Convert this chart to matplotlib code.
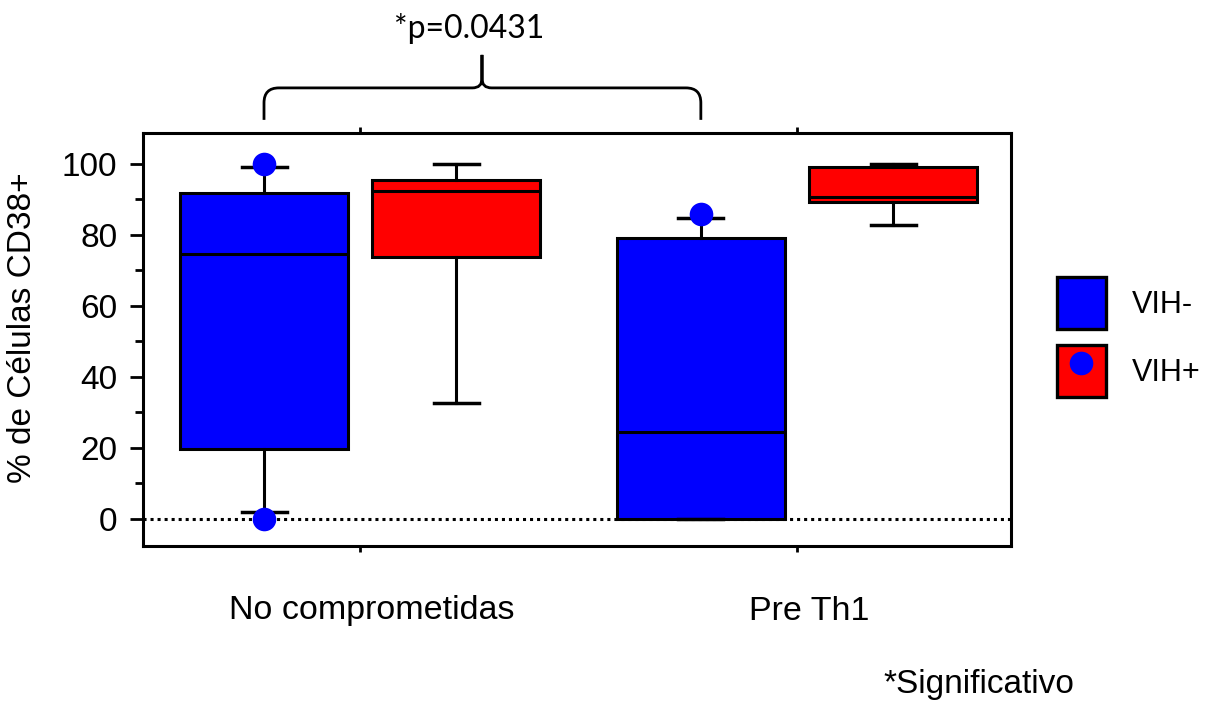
import matplotlib
matplotlib.use('Agg')
import matplotlib.pyplot as plt
from matplotlib.patches import Patch, PathPatch
from matplotlib.lines import Line2D
from matplotlib.path import Path
from matplotlib.transforms import ScaledTranslation, blended_transform_factory

groups = ['No comprometidas', 'Pre Th1']
series = ['VIH-', 'VIH+']
colors = ['#0000ff', '#ff0000']

# whisker low, q1, median, q3, whisker high per group
vih_neg_low = [1.9, 0.0]
vih_neg_q1 = [19.7, 0.0]
vih_neg_med = [74.6, 24.5]
vih_neg_q3 = [91.9, 79.2]
vih_neg_high = [99.2, 84.8]

vih_pos_low = [32.8, 82.9]
vih_pos_q1 = [73.9, 89.3]
vih_pos_med = [92.5, 90.7]
vih_pos_q3 = [95.4, 99.1]
vih_pos_high = [100.0, 100.0]

# single points drawn over the VIH- boxes
dot_group = [0, 0, 1]
dot_values = [100.0, 0.0, 85.9]

p_label = '*p=0.0431'
note_label = '*Significativo'
y_label = '% de Células CD38+'

font = ['Liberation Sans', 'DejaVu Sans']
plt.rcParams['font.family'] = font

fig = plt.figure(figsize=(12.19, 7.02), dpi=100)
ax = fig.add_axes([143 / 1219, 1 - 546 / 702, (1011 - 143) / 1219, (546 - 133) / 702])

offset = 0.22
width = 0.385
capw = 0.103

def stats(low, q1, med, q3, high):
    return [dict(whislo=a, q1=b, med=c, q3=d, whishi=e, fliers=[])
            for a, b, c, d, e in zip(low, q1, med, q3, high)]

all_stats = [stats(vih_neg_low, vih_neg_q1, vih_neg_med, vih_neg_q3, vih_neg_high),
             stats(vih_pos_low, vih_pos_q1, vih_pos_med, vih_pos_q3, vih_pos_high)]

lw = 2.2
for k, st in enumerate(all_stats):
    pos = [i + 1 + (k * 2 - 1) * offset for i in range(len(groups))]
    ax.bxp(st, positions=pos, widths=width, capwidths=capw, patch_artist=True,
           showfliers=False, manage_ticks=False,
           boxprops=dict(facecolor=colors[k], edgecolor='black', linewidth=lw),
           medianprops=dict(color='black', linewidth=lw),
           whiskerprops=dict(color='black', linewidth=lw),
           capprops=dict(color='black', linewidth=lw + 0.3))

ax.plot([g + 1 - offset for g in dot_group], dot_values, 'o', color=colors[0],
        ms=17, mec='none', zorder=5, clip_on=False)

ax.axhline(0, color='black', ls=(0, (1, 1.3)), lw=2.2, zorder=1)

ax.set_xlim(0.503, 2.49)
ax.set_ylim(-7.6, 108.7)
ax.set_yticks([0, 20, 40, 60, 80, 100])
ax.set_yticks([10, 30, 50, 70, 90], minor=True)
ax.set_xticks([1, 2])
ax.set_xticklabels([])
ax.tick_params(axis='y', which='major', length=9.4, width=2, labelsize=24, pad=9)
ax.tick_params(axis='y', which='minor', length=6, width=2)
ax.tick_params(axis='x', which='major', length=4.5, width=2, top=True)
for s in ax.spines.values():
    s.set_linewidth(2.2)
ax.set_ylabel(y_label, fontsize=24)
ax.yaxis.set_label_coords(-(143 - 38) / 868, 1 - (328 - 133) / 413)

# group names, set a little right of their ticks
name_tr = blended_transform_factory(ax.transData, ax.transAxes) + \
    ScaledTranslation(12 / 100, 0, fig.dpi_scale_trans)
for i, g in enumerate(groups):
    ax.text(i + 1, -(611 - 546) / 413, g, transform=name_tr, ha='center', va='center',
            fontsize=24.5)

# brace joining the two VIH- boxes
x0, x1, xm = 1 - offset, 2 - offset, 1.279
yb, yh, yt = 112.4, 121.4, 130.7
rx, ry = 0.034, 4.2
cx, cy = 0.022, 2.6
verts = [(x0, yb), (x0, yh - ry), (x0, yh), (x0 + rx, yh),
         (xm - cx, yh), (xm, yh), (xm, yh + cy), (xm, yt),
         (xm, yh + cy), (xm, yh), (xm + cx, yh),
         (x1 - rx, yh), (x1, yh), (x1, yh - ry), (x1, yb)]
codes = [Path.MOVETO, Path.LINETO, Path.CURVE3, Path.CURVE3,
         Path.LINETO, Path.CURVE3, Path.CURVE3, Path.LINETO,
         Path.LINETO, Path.CURVE3, Path.CURVE3,
         Path.LINETO, Path.CURVE3, Path.CURVE3, Path.LINETO]
ax.add_patch(PathPatch(Path(verts, codes), fill=False, lw=2, ec='black', clip_on=False))
ax.text(xm - 0.03, 138, p_label, ha='center', va='center', fontsize=23,
        family=['Lato', 'DejaVu Sans'])

handles = [Patch(facecolor=colors[0], edgecolor='black', linewidth=2.4),
           (Patch(facecolor=colors[1], edgecolor='black', linewidth=2.4),
            Line2D([], [], marker='o', ls='', color=colors[0], ms=17, mec='none'))]
fig.legend(handles, series, loc='upper left', bbox_to_anchor=(1057 / 1219, 1 - 277 / 702),
           frameon=False, fontsize=22, handlelength=1.6, handleheight=2.25,
           handletextpad=0.85, labelspacing=0.52, borderpad=0, borderaxespad=0)

fig.text(979 / 1219, 1 - 685 / 702, note_label, ha='center', va='center', fontsize=24)

fig.savefig('out.png', dpi=100)
